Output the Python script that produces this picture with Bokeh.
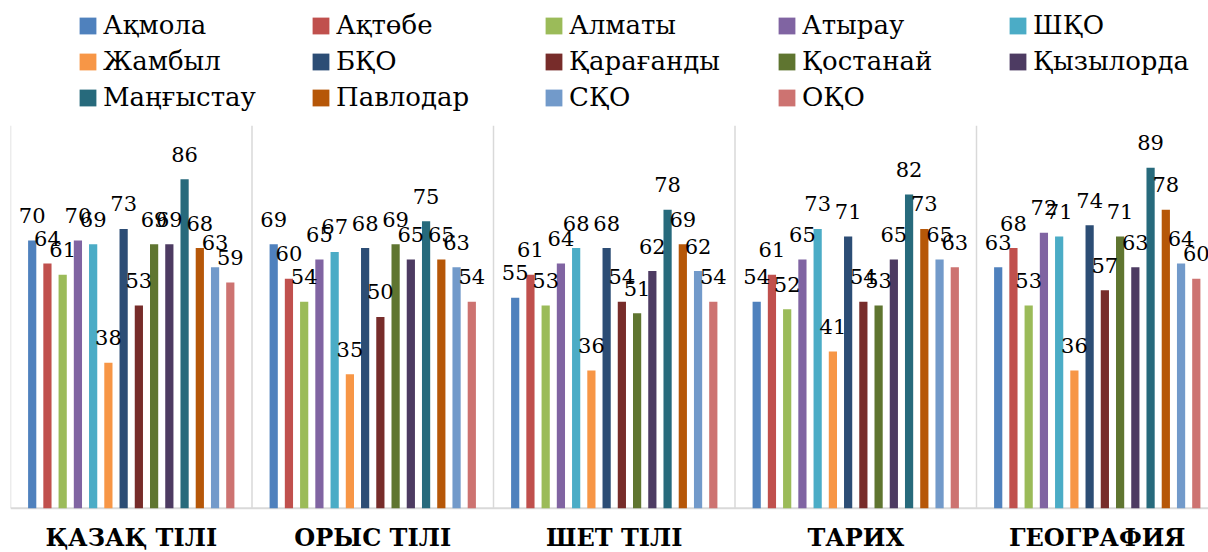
from bokeh.plotting import figure
from bokeh.models import ColumnDataSource, Range1d, Legend, LegendItem
from bokeh.core.properties import value
from bokeh.embed import file_html
from bokeh.resources import INLINE

subjects = ["ҚАЗАҚ ТІЛІ", "ОРЫС ТІЛІ", "ШЕТ ТІЛІ", "ТАРИХ", "ГЕОГРАФИЯ"]
regions = ["Ақмола", "Ақтөбе", "Алматы", "Атырау", "ШҚО", "Жамбыл", "БҚО",
           "Қарағанды", "Қостанай", "Қызылорда", "Маңғыстау", "Павлодар", "СҚО", "ОҚО"]

akmola = [70, 69, 55, 54, 63]
aktobe = [64, 60, 61, 61, 68]
almaty = [61, 54, 53, 52, 53]
atyrau = [70, 65, 64, 65, 72]
shko = [69, 67, 68, 73, 71]
zhambyl = [38, 35, 36, 41, 36]
bko = [73, 68, 68, 71, 74]
karagandy = [53, 50, 54, 54, 57]
kostanai = [69, 69, 51, 53, 71]
kyzylorda = [69, 65, 62, 65, 63]
mangystau = [86, 75, 78, 82, 89]
pavlodar = [68, 65, 69, 73, 78]
sko = [63, 63, 62, 65, 64]
oko = [59, 54, 54, 63, 60]

series = [akmola, aktobe, almaty, atyrau, shko, zhambyl, bko,
          karagandy, kostanai, kyzylorda, mangystau, pavlodar, sko, oko]

colors = ["#4F81BD", "#C0504D", "#9BBB59", "#8064A2", "#4BACC6", "#F79646", "#2C4D75",
          "#772C2A", "#5F7530", "#4D3B62", "#276A7C", "#B65708", "#729ACA", "#CD7371"]

SERIF = "DejaVu Serif"

n_groups = len(subjects)
n_series = len(regions)
step = 0.0631
bar_w = 0.034

W, H = 1208, 552
p = figure(width=W, height=H,
           x_range=Range1d(0, 1198 / 241.5), y_range=Range1d(-11.58, 132.73),
           x_axis_type=None, y_axis_type=None,
           toolbar_location=None, output_backend="svg",
           min_border_left=10, min_border_right=0, min_border_top=0, min_border_bottom=0)
p.outline_line_color = None
p.background_fill_color = "white"
p.border_fill_color = "white"

# category separators and baseline
bounds = list(range(n_groups + 1))
p.segment(x0=bounds, y0=[0] * len(bounds), x1=bounds, y1=[100] * len(bounds),
          line_color="#d9d9d9", line_width=1.5)
p.segment(x0=[0], y0=[0], x1=[n_groups], y1=[0], line_color="#d9d9d9", line_width=2)

renderers = []
for i, (name, vals, col) in enumerate(zip(regions, series, colors)):
    xs = [g + 0.5 + (i - (n_series - 1) / 2) * step for g in range(n_groups)]
    src = ColumnDataSource(dict(x=xs, top=vals, label=[str(v) for v in vals]))
    r = p.vbar(x="x", top="top", bottom=0, width=bar_w, source=src,
               fill_color=col, line_color=None)
    renderers.append(r)

for r in renderers:
    p.text(x="x", y="top", text="label", source=r.data_source,
           text_font=value(SERIF), text_font_size="21px",
           text_color="black", text_align="center", text_baseline="alphabetic",
           y_offset=-25)

# category labels
cat_src = ColumnDataSource(dict(x=[g + 0.5 for g in range(n_groups)],
                                y=[0] * n_groups, t=subjects))
p.text(x="x", y="y", text="t", source=cat_src,
       text_font=value(SERIF), text_font_style="bold",
       text_font_size="24px", text_color="black",
       text_align="center", text_baseline="alphabetic", y_offset=29)

# legend in 5 columns
col_x = [67, 300, 533, 766, 997]
label_h = 32
spacing = 4
for c in range(5):
    idx = [i for i in range(n_series) if i % 5 == c]
    items = [LegendItem(label=regions[i], renderers=[renderers[i]]) for i in idx]
    n = len(items)
    lh = n * label_h + (n - 1) * spacing
    top = 9
    leg = Legend(items=items, location=(col_x[c], H - top - lh),
                 orientation="vertical", padding=0, margin=0, spacing=spacing,
                 border_line_color=None, background_fill_alpha=0,
                 glyph_width=21, glyph_height=21, label_height=label_h,
                 label_standoff=5,
                 label_text_font=SERIF, label_text_font_size="26px",
                 label_text_color="black")
    p.add_layout(leg)

open("out.html", "w").write(file_html(p, INLINE))
